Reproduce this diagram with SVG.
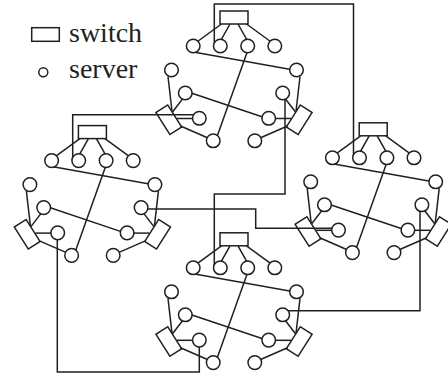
<svg xmlns="http://www.w3.org/2000/svg" width="448" height="378" viewBox="0 0 448 378">
<style>
.ln{fill:none;stroke:#231f20;stroke-width:1.5}
.srv{fill:#fff;stroke:#231f20;stroke-width:1.5}
.sw{fill:none;stroke:#231f20;stroke-width:1.5}
.lbl{font-size:28px;fill:#231f20}
</style>
<defs>
<g id="intra">
<line x1="221.5" y1="24" x2="197.5" y2="41.5"/>
<line x1="230" y1="24" x2="221" y2="40"/>
<line x1="238" y1="24" x2="247" y2="40"/>
<line x1="246.5" y1="24" x2="270.5" y2="41.5"/>
<line x1="172" y1="111.5" x2="168" y2="76.5"/>
<line x1="172.5" y1="112" x2="182.5" y2="99"/>
<line x1="177" y1="118.5" x2="193.3" y2="118.5"/>
<line x1="180.5" y1="126" x2="208" y2="138"/>
<line x1="296" y1="111.5" x2="300" y2="76.5"/>
<line x1="295.5" y1="112" x2="285.5" y2="99"/>
<line x1="291" y1="118.5" x2="274.7" y2="118.5"/>
<line x1="287.5" y1="126" x2="260" y2="138"/>
<line x1="193.3" y1="52" x2="296.5" y2="70.5"/>
<line x1="247.2" y1="52" x2="216" y2="139.5"/>
<line x1="186" y1="91.2" x2="268.7" y2="119"/>
</g>
</defs>

<g id="connectors" class="ln">
<use href="#intra"/>
<use href="#intra" transform="translate(-141.6 114.6)"/>
<use href="#intra" transform="translate(139.2 111.8)"/>
<use href="#intra" transform="translate(0 221.8)"/>
<path id="link-top-right" d="M214.3 46V4H353.5V157.8"/>
<path id="link-top-left" d="M199.3 114.7H72.7V160.6"/>
<path id="link-top-bottom" d="M285 93V194H214.3V267.8"/>
<path id="link-left-right" d="M141.1 209H255.7V228.3H338.5"/>
<path id="link-right-bottom" d="M420 204.8V310.7H282.7"/>
<path id="link-left-bottom" d="M57.3 232.9V372H199.3V340.1"/>
</g>

<g id="cluster-top">
<g id="top-sw-top"><rect class="sw" x="220" y="11" width="28" height="13"/></g>
<g id="top-sw-left"><rect class="sw" x="-13" y="-7" width="26" height="14" transform="translate(168.8 119.7) rotate(57.5)"/></g>
<g id="top-sw-right"><rect class="sw" x="-13" y="-7" width="26" height="14" transform="translate(299.2 119.7) rotate(-57.5)"/></g>
<g id="top-t1"><circle class="srv" cx="193.2" cy="46" r="6.8"/></g>
<g id="top-t2"><circle class="srv" cx="220.3" cy="46" r="6.8"/></g>
<g id="top-t3"><circle class="srv" cx="247.7" cy="46" r="6.8"/></g>
<g id="top-t4"><circle class="srv" cx="274.8" cy="46" r="6.8"/></g>
<g id="top-l1"><circle class="srv" cx="171.5" cy="70" r="6.8"/></g>
<g id="top-l2"><circle class="srv" cx="185.3" cy="93" r="6.8"/></g>
<g id="top-l3"><circle class="srv" cx="199.3" cy="118.3" r="6.8"/></g>
<g id="top-l4"><circle class="srv" cx="213.2" cy="140.8" r="6.8"/></g>
<g id="top-r1"><circle class="srv" cx="296.5" cy="70" r="6.8"/></g>
<g id="top-r2"><circle class="srv" cx="282.7" cy="93" r="6.8"/></g>
<g id="top-r3"><circle class="srv" cx="268.7" cy="118.3" r="6.8"/></g>
<g id="top-r4"><circle class="srv" cx="254.8" cy="140.8" r="6.8"/></g>
</g>

<g id="cluster-left" transform="translate(-141.6 114.6)">
<g id="left-sw-top"><rect class="sw" x="220" y="11" width="28" height="13"/></g>
<g id="left-sw-left"><rect class="sw" x="-13" y="-7" width="26" height="14" transform="translate(168.8 119.7) rotate(57.5)"/></g>
<g id="left-sw-right"><rect class="sw" x="-13" y="-7" width="26" height="14" transform="translate(299.2 119.7) rotate(-57.5)"/></g>
<g id="left-t1"><circle class="srv" cx="193.2" cy="46" r="6.8"/></g>
<g id="left-t2"><circle class="srv" cx="220.3" cy="46" r="6.8"/></g>
<g id="left-t3"><circle class="srv" cx="247.7" cy="46" r="6.8"/></g>
<g id="left-t4"><circle class="srv" cx="274.8" cy="46" r="6.8"/></g>
<g id="left-l1"><circle class="srv" cx="171.5" cy="70" r="6.8"/></g>
<g id="left-l2"><circle class="srv" cx="185.3" cy="93" r="6.8"/></g>
<g id="left-l3"><circle class="srv" cx="199.3" cy="118.3" r="6.8"/></g>
<g id="left-l4"><circle class="srv" cx="213.2" cy="140.8" r="6.8"/></g>
<g id="left-r1"><circle class="srv" cx="296.5" cy="70" r="6.8"/></g>
<g id="left-r2"><circle class="srv" cx="282.7" cy="93" r="6.8"/></g>
<g id="left-r3"><circle class="srv" cx="268.7" cy="118.3" r="6.8"/></g>
<g id="left-r4"><circle class="srv" cx="254.8" cy="140.8" r="6.8"/></g>
</g>

<g id="cluster-right" transform="translate(139.2 111.8)">
<g id="right-sw-top"><rect class="sw" x="220" y="11" width="28" height="13"/></g>
<g id="right-sw-left"><rect class="sw" x="-13" y="-7" width="26" height="14" transform="translate(168.8 119.7) rotate(57.5)"/></g>
<g id="right-sw-right"><rect class="sw" x="-13" y="-7" width="26" height="14" transform="translate(299.2 119.7) rotate(-57.5)"/></g>
<g id="right-t1"><circle class="srv" cx="193.2" cy="46" r="6.8"/></g>
<g id="right-t2"><circle class="srv" cx="220.3" cy="46" r="6.8"/></g>
<g id="right-t3"><circle class="srv" cx="247.7" cy="46" r="6.8"/></g>
<g id="right-t4"><circle class="srv" cx="274.8" cy="46" r="6.8"/></g>
<g id="right-l1"><circle class="srv" cx="171.5" cy="70" r="6.8"/></g>
<g id="right-l2"><circle class="srv" cx="185.3" cy="93" r="6.8"/></g>
<g id="right-l3"><circle class="srv" cx="199.3" cy="118.3" r="6.8"/></g>
<g id="right-l4"><circle class="srv" cx="213.2" cy="140.8" r="6.8"/></g>
<g id="right-r1"><circle class="srv" cx="296.5" cy="70" r="6.8"/></g>
<g id="right-r2"><circle class="srv" cx="282.7" cy="93" r="6.8"/></g>
<g id="right-r3"><circle class="srv" cx="268.7" cy="118.3" r="6.8"/></g>
<g id="right-r4"><circle class="srv" cx="254.8" cy="140.8" r="6.8"/></g>
</g>

<g id="cluster-bottom" transform="translate(0 221.8)">
<g id="bottom-sw-top"><rect class="sw" x="220" y="11" width="28" height="13"/></g>
<g id="bottom-sw-left"><rect class="sw" x="-13" y="-7" width="26" height="14" transform="translate(168.8 119.7) rotate(57.5)"/></g>
<g id="bottom-sw-right"><rect class="sw" x="-13" y="-7" width="26" height="14" transform="translate(299.2 119.7) rotate(-57.5)"/></g>
<g id="bottom-t1"><circle class="srv" cx="193.2" cy="46" r="6.8"/></g>
<g id="bottom-t2"><circle class="srv" cx="220.3" cy="46" r="6.8"/></g>
<g id="bottom-t3"><circle class="srv" cx="247.7" cy="46" r="6.8"/></g>
<g id="bottom-t4"><circle class="srv" cx="274.8" cy="46" r="6.8"/></g>
<g id="bottom-l1"><circle class="srv" cx="171.5" cy="70" r="6.8"/></g>
<g id="bottom-l2"><circle class="srv" cx="185.3" cy="93" r="6.8"/></g>
<g id="bottom-l3"><circle class="srv" cx="199.3" cy="118.3" r="6.8"/></g>
<g id="bottom-l4"><circle class="srv" cx="213.2" cy="140.8" r="6.8"/></g>
<g id="bottom-r1"><circle class="srv" cx="296.5" cy="70" r="6.8"/></g>
<g id="bottom-r2"><circle class="srv" cx="282.7" cy="93" r="6.8"/></g>
<g id="bottom-r3"><circle class="srv" cx="268.7" cy="118.3" r="6.8"/></g>
<g id="bottom-r4"><circle class="srv" cx="254.8" cy="140.8" r="6.8"/></g>
</g>

<g id="legend">
<rect class="sw" x="31.7" y="27.7" width="27.6" height="13.6"/>
<text class="lbl" x="69" y="41.5" font-family="'Liberation Serif', 'DejaVu Serif', serif">switch</text>
<circle class="srv" cx="43.3" cy="72.3" r="4.5"/>
<text class="lbl" x="69" y="78" font-family="'Liberation Serif', 'DejaVu Serif', serif">server</text>
</g>
</svg>
